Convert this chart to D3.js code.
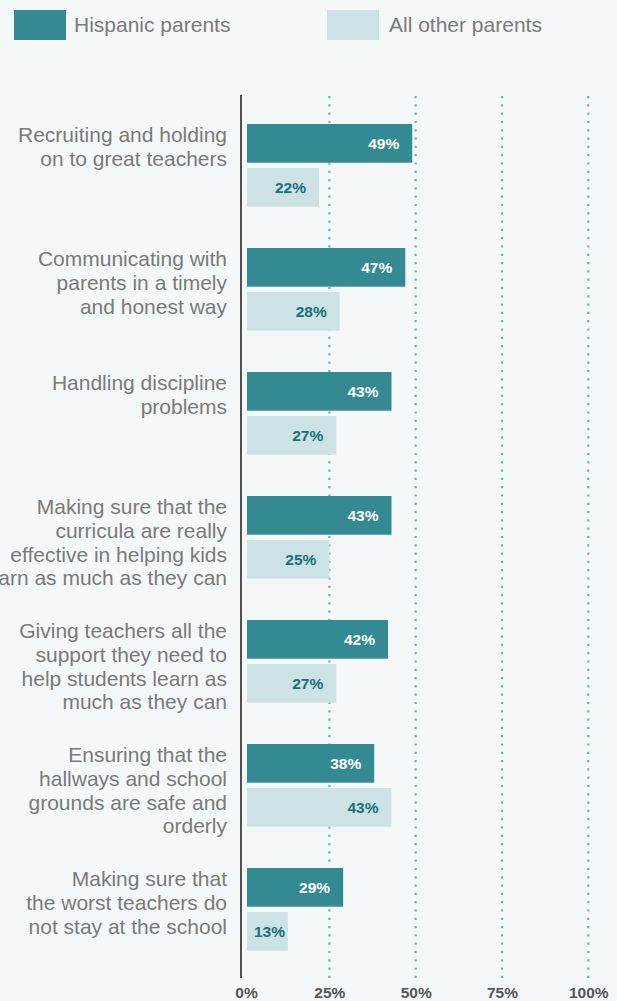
<!DOCTYPE html>
<html>
<head>
<meta charset="utf-8">
<script src="https://cdn.jsdelivr.net/npm/d3@7"></script>
<style>
  html, body { margin: 0; padding: 0; background: #f5f8f9; }
  svg { display: block; }
  text { font-family: "Liberation Sans", Arial, sans-serif; }
</style>
</head>
<body>
<div id="chart"></div>
<script>
// Priorities for improving schools: share of parents naming each item
const categories = [
  ["Recruiting and holding", "on to great teachers"],
  ["Communicating with", "parents in a timely", "and honest way"],
  ["Handling discipline", "problems"],
  ["Making sure that the", "curricula are really", "effective in helping kids", "learn as much as they can"],
  ["Giving teachers all the", "support they need to", "help students learn as", "much as they can"],
  ["Ensuring that the", "hallways and school", "grounds are safe and", "orderly"],
  ["Making sure that", "the worst teachers do", "not stay at the school"]
];
const hispanicValues = [49, 47, 43, 43, 42, 38, 29];
const otherValues = [22, 28, 27, 25, 27, 43, 13];
const seriesNames = ["Hispanic parents", "All other parents"];
const tickValues = [0, 25, 50, 75, 100];

const W = 617, H = 1001;
const colors = { dark: "#348a93", light: "#cde2e5" };

const svg = d3.select("#chart").append("svg")
  .attr("width", W).attr("height", H);

svg.append("rect").attr("width", W).attr("height", H).attr("fill", "#f5f8f9");

const x = d3.scaleLinear().domain([0, 100]).range([243, 588.3]);

const keys = categories.map((c, i) => i);
const y = d3.scaleBand().domain(keys).range([124, 950.7]).paddingInner(0.333).paddingOuter(0);
const ySub = d3.scaleBand().domain([0, 1]).range([0, y.bandwidth()]).paddingInner(0.1205).paddingOuter(0);

const axisTop = 95, axisBottom = 978;

// dotted gridlines
svg.append("g").selectAll("line")
  .data(tickValues.filter(t => t > 0))
  .join("line")
  .attr("x1", d => x(d)).attr("x2", d => x(d))
  .attr("y1", axisTop + 1).attr("y2", axisBottom)
  .attr("stroke", "#6fb1b9")
  .attr("stroke-width", 2.2)
  .attr("stroke-dasharray", "2.2 6.1");

// bars
const rows = [];
keys.forEach(i => {
  rows.push({ i, s: 0, v: hispanicValues[i] });
  rows.push({ i, s: 1, v: otherValues[i] });
});

const barStart = x(0) + 4;
svg.append("g").selectAll("rect")
  .data(rows)
  .join("rect")
  .attr("x", barStart)
  .attr("y", d => y(d.i) + ySub(d.s))
  .attr("width", d => x(d.v) - barStart)
  .attr("height", ySub.bandwidth())
  .attr("fill", d => d.s === 0 ? colors.dark : colors.light);

// value labels (kept inside the bar, right-aligned)
svg.append("g").selectAll("text")
  .data(rows)
  .join("text")
  .attr("x", d => Math.max(x(d.v) - 13, barStart + 38))
  .attr("y", d => y(d.i) + ySub(d.s) + ySub.bandwidth() / 2)
  .attr("dy", "0.36em")
  .attr("text-anchor", "end")
  .attr("font-size", "15.5px")
  .attr("font-weight", "bold")
  .attr("fill", d => d.s === 0 ? "#ffffff" : "#17707b")
  .text(d => d.v + "%");

// category labels
const lab = svg.append("g").selectAll("text")
  .data(keys)
  .join("text")
  .attr("text-anchor", "end")
  .attr("font-size", "21px")
  .attr("fill", "#7a7a7a")
  .attr("transform", i => `translate(227,${y(i) + 18})`);
lab.selectAll("tspan")
  .data(i => categories[i])
  .join("tspan")
  .attr("x", 0)
  .attr("y", (d, j) => j * 23.8)
  .text(d => d);

// vertical axis line
svg.append("line")
  .attr("x1", 241).attr("x2", 241)
  .attr("y1", axisTop).attr("y2", axisBottom)
  .attr("stroke", "#505050").attr("stroke-width", 2);

// bottom tick labels
const xAxis = svg.append("g")
  .attr("transform", `translate(0,${axisBottom})`)
  .call(d3.axisBottom(x).tickValues(tickValues).tickSize(0).tickPadding(0).tickFormat(d => d + "%"));
xAxis.select(".domain").remove();
xAxis.selectAll("text")
  .attr("y", 20)
  .attr("dy", 0)
  .attr("font-family", "'Liberation Sans', Arial, sans-serif")
  .attr("font-size", "15.5px")
  .attr("font-weight", "bold")
  .attr("fill", "#555555");
xAxis.selectAll(".tick").filter(d => d === 0).select("text").attr("dx", 3);

// legend
const legend = svg.append("g").selectAll("g")
  .data(seriesNames)
  .join("g")
  .attr("transform", (d, i) => `translate(${i === 0 ? 14 : 327},10)`);
legend.append("rect")
  .attr("width", 52).attr("height", 30)
  .attr("fill", (d, i) => i === 0 ? colors.dark : colors.light);
legend.append("text")
  .attr("x", (d, i) => i === 0 ? 60 : 62)
  .attr("y", 22)
  .attr("font-size", "21px")
  .attr("fill", "#7a7a7a")
  .text(d => d);
</script>
</body>
</html>
